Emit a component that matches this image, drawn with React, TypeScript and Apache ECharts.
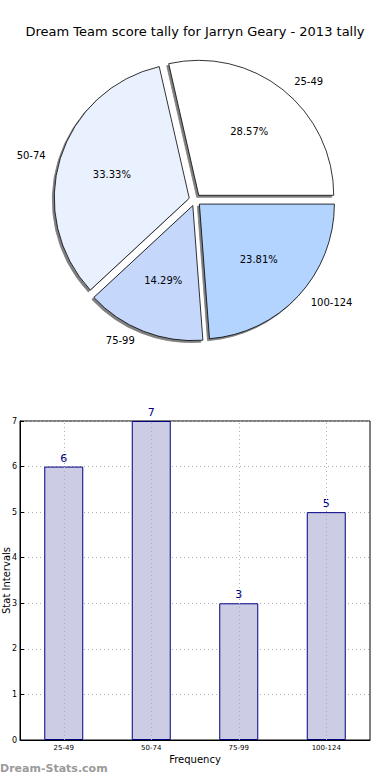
import React, { useEffect, useRef } from "react";
import * as echarts from "echarts";

const TITLE = "Dream Team score tally for Jarryn Geary - 2013 tally";
const CATEGORIES = ["25-49", "50-74", "75-99", "100-124"];
const COUNTS = [6, 7, 3, 5];
const PIE_COLORS = ["#ffffff", "#eaf1fe", "#c5d8fc", "#b3d4fe"];
const Y_TICKS_MAX = 7;
const X_NAME = "Frequency";
const Y_NAME = "Stat Intervals";
const WATERMARK = "Dream-Stats.com";

const FONT = "DejaVu Sans";

export default function App() {
  const ref = useRef<HTMLDivElement>(null);
  useEffect(() => {
    document.body.style.margin = "0";
    if (!ref.current) return;
    const chart = echarts.init(ref.current, null, { renderer: "svg" });
    const total = COUNTS.reduce((a, b) => a + b, 0);
    const R = 135;
    const center = [195, 200];
    const offset = 6;
    const sliceData = CATEGORIES.map((c, i) => ({
      name: c,
      value: COUNTS[i],
      selected: true,
      itemStyle: { color: PIE_COLORS[i] },
    }));
    const pctData = CATEGORIES.map((c, i) => ({
      name: c,
      value: COUNTS[i],
      selected: true,
    }));
    chart.setOption({
      animation: false,
      textStyle: { fontFamily: FONT },
      title: {
        text: TITLE,
        left: "center",
        top: 20,
        textStyle: { fontFamily: FONT, fontSize: 13, fontWeight: "normal", color: "#000" },
      },
      grid: {
        left: 20,
        right: 20,
        top: 421,
        bottom: 40,
        containLabel: false,
        outerBoundsMode: "none",
        show: true,
        borderColor: "#000",
        borderWidth: 1,
        backgroundColor: "transparent",
      },
      xAxis: {
        type: "category",
        data: CATEGORIES,
        name: X_NAME,
        nameLocation: "middle",
        nameGap: 14,
        nameMoveOverlap: false,
        nameTextStyle: { fontFamily: FONT, fontSize: 10, color: "#000" },
        axisLine: { lineStyle: { color: "#000" } },
        axisTick: { inside: true, alignWithLabel: true, length: 4, lineStyle: { color: "#000" } },
        axisLabel: { fontFamily: FONT, fontSize: 7, color: "#000", margin: 4 },
        splitLine: { show: false },
      },
      yAxis: {
        type: "value",
        min: 0,
        max: Y_TICKS_MAX,
        interval: 1,
        name: Y_NAME,
        nameLocation: "middle",
        nameGap: 9,
        nameMoveOverlap: false,
        nameTextStyle: { fontFamily: FONT, fontSize: 10, color: "#000" },
        axisLine: { show: true, lineStyle: { color: "#000" } },
        axisTick: { show: true, inside: true, length: 4, lineStyle: { color: "#000" } },
        axisLabel: { fontFamily: FONT, fontSize: 8, color: "#000", margin: 3 },
        splitLine: { show: true, lineStyle: { color: "#b0b0b0", type: [1, 3], width: 1 } },
      },
      series: [
        {
          type: "pie",
          center,
          radius: [0, R],
          startAngle: 0,
          clockwise: false,
          selectedMode: "multiple",
          selectedOffset: offset,
          avoidLabelOverlap: false,
          silent: true,
          data: sliceData,
          itemStyle: {
            borderColor: "#000",
            borderWidth: 0.8,
            shadowColor: "rgba(0,0,0,0.5)",
            shadowBlur: 0,
            shadowOffsetX: -2,
            shadowOffsetY: 2,
          },
          select: { itemStyle: { borderColor: "#000", borderWidth: 0.8 } },
          emphasis: { disabled: true },
          label: {
            show: true,
            position: "outside",
            formatter: "{b}",
            fontFamily: FONT,
            fontSize: 10,
            color: "#000",
            distanceToLabelLine: 5,
          },
          labelLine: { show: false, length: 10, length2: 0 },
        },
        {
          type: "pie",
          center,
          radius: [0, 156],
          startAngle: 0,
          clockwise: false,
          selectedMode: "multiple",
          selectedOffset: offset,
          avoidLabelOverlap: false,
          silent: true,
          data: pctData,
          itemStyle: { color: "transparent", borderWidth: 0 },
          select: { itemStyle: { color: "transparent", borderWidth: 0 } },
          emphasis: { disabled: true },
          label: {
            show: true,
            position: "inside",
            formatter: (p: any) => ((p.value / total) * 100).toFixed(2) + "%",
            fontFamily: FONT,
            fontSize: 10,
            color: "#000",
          },
          labelLine: { show: false },
        },
        {
          type: "bar",
          data: COUNTS,
          barWidth: 39,
          itemStyle: { color: "#cccce5", borderColor: "#000080", borderWidth: 1 },
          label: {
            show: true,
            position: "top",
            distance: 3,
            fontFamily: FONT,
            fontSize: 11,
            color: "#000080",
          },
          emphasis: { disabled: true },
          silent: true,
          markLine: {
            silent: true,
            symbol: "none",
            label: { show: false },
            lineStyle: { color: "#b0b0b0", type: [1, 3], width: 1 },
            data: CATEGORIES.map((c) => ({ xAxis: c })),
          },
        },
      ],
      graphic: [
        {
          type: "text",
          left: 0,
          top: 763,
          style: {
            text: WATERMARK,
            fontFamily: FONT,
            fontSize: 11,
            fontWeight: "bold",
            fill: "#9a9a9a",
          },
        },
      ],
    });
    return () => chart.dispose();
  }, []);
  return <div ref={ref} style={{ width: 390, height: 780 }} />;
}
